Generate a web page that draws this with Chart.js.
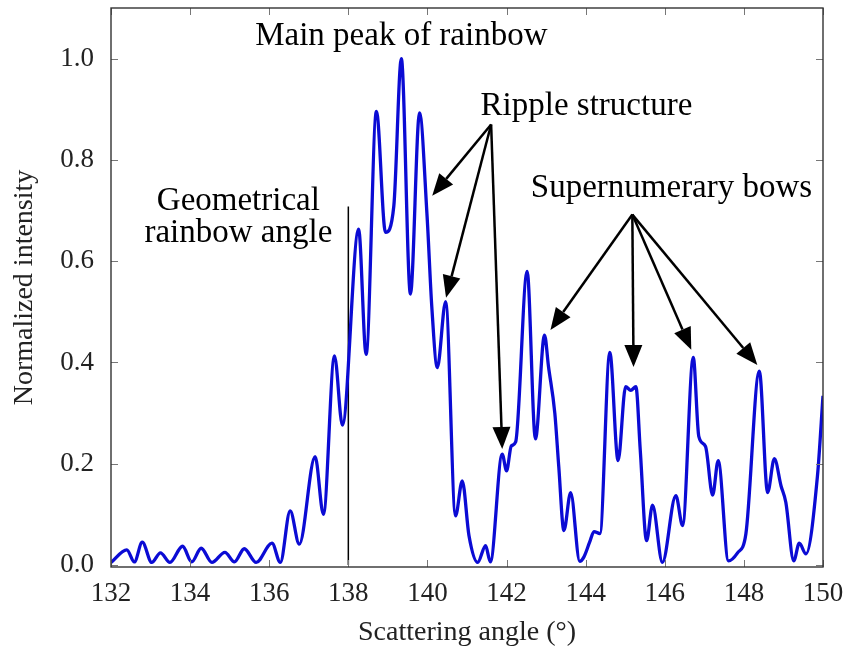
<!DOCTYPE html>
<html>
<head>
<meta charset="utf-8">
<script src="https://cdn.jsdelivr.net/npm/chart.js@4.4.1/dist/chart.umd.min.js"></script>
<style>
  html, body { margin: 0; padding: 0; background: #fff; }
  canvas { display: block; }
</style>
</head>
<body>
<canvas id="rainbowChart" width="848" height="652"></canvas>
<script>
// scattering angle (deg) and normalized intensity
const angles = [
  132.00, 132.40, 132.59, 132.79, 133.03, 133.25, 133.49, 133.81, 134.04, 134.28,
  134.55, 134.88, 135.12, 135.37, 135.67, 136.07, 136.28, 136.53, 136.76, 137.16,
  137.37, 137.65, 137.85, 138.26, 138.45, 138.71, 138.94, 139.15, 139.34, 139.57,
  139.80, 139.99, 140.11, 140.25, 140.46, 140.71, 140.88, 141.05, 141.27, 141.47,
  141.59, 141.89, 142.00, 142.12, 142.23, 142.52, 142.73, 142.96, 143.06, 143.22,
  143.32, 143.45, 143.62, 143.85, 143.95, 144.10, 144.21, 144.36, 144.61, 144.82,
  145.01, 145.14, 145.27, 145.38, 145.54, 145.69, 145.94, 146.28, 146.45, 146.72,
  146.86, 147.03, 147.21, 147.35, 147.61, 147.84, 148.05, 148.39, 148.60, 148.77,
  148.94, 149.06, 149.26, 149.40, 149.57, 149.86, 150.00
];
const intensity = [
  0.005, 0.030, 0.006, 0.045, 0.005, 0.024, 0.005, 0.037, 0.006, 0.033,
  0.005, 0.025, 0.006, 0.032, 0.005, 0.043, 0.005, 0.107, 0.041, 0.214,
  0.100, 0.413, 0.276, 0.663, 0.416, 0.896, 0.657, 0.709, 1.000, 0.535,
  0.893, 0.690, 0.510, 0.390, 0.520, 0.097, 0.166, 0.058, 0.005, 0.038,
  0.006, 0.219, 0.186, 0.235, 0.243, 0.580, 0.249, 0.454, 0.392, 0.300,
  0.194, 0.068, 0.143, 0.007, 0.015, 0.045, 0.066, 0.062, 0.420, 0.206,
  0.352, 0.345, 0.352, 0.227, 0.048, 0.118, 0.005, 0.137, 0.078, 0.410,
  0.254, 0.234, 0.138, 0.206, 0.008, 0.024, 0.061, 0.383, 0.143, 0.210,
  0.156, 0.124, 0.008, 0.043, 0.022, 0.176, 0.334
];

const xTicks = [132, 134, 136, 138, 140, 142, 144, 146, 148, 150];
const yTicks = [0, 0.2, 0.4, 0.6, 0.8, 1.0];

// geometrical rainbow angle marker
const geoAngle = [138, 138];
const geoLevel = [0, 0.708];

// annotation texts, in data units (centre x, baseline y)
const notes = [
  { text: 'Main peak of rainbow', x: 139.34, y: 1.026 },
  { text: 'Ripple structure', x: 144.02, y: 0.889 },
  { text: 'Geometrical', x: 135.22, y: 0.702 },
  { text: 'rainbow angle', x: 135.22, y: 0.638 },
  { text: 'Supernumerary bows', x: 146.17, y: 0.727 }
];

// arrows: common origin -> tips
const rippleFrom = { x: 141.61, y: 0.870 };
const rippleTips = [
  { x: 140.12, y: 0.729 },
  { x: 140.47, y: 0.528 },
  { x: 141.89, y: 0.229 }
];
const bowsFrom = { x: 145.18, y: 0.692 };
const bowsTips = [
  { x: 143.11, y: 0.464 },
  { x: 145.21, y: 0.391 },
  { x: 146.67, y: 0.425 },
  { x: 148.34, y: 0.395 }
];

const serif = '"Liberation Serif", "Times New Roman", serif';

function drawArrow(c, x0, y0, x1, y1) {
  const ang = Math.atan2(y1 - y0, x1 - x0);
  const len = 22, half = 9;
  const bx = x1 - len * Math.cos(ang);
  const by = y1 - len * Math.sin(ang);
  c.beginPath();
  c.moveTo(x0, y0);
  c.lineTo(bx, by);
  c.stroke();
  c.beginPath();
  c.moveTo(x1, y1);
  c.lineTo(bx + half * Math.sin(ang), by - half * Math.cos(ang));
  c.lineTo(bx - half * Math.sin(ang), by + half * Math.cos(ang));
  c.closePath();
  c.fill();
}

// box, inward ticks and the annotations
const decorations = {
  id: 'decorations',
  afterDatasetsDraw(chart) {
    const c = chart.ctx;
    const { left, right, top, bottom } = chart.chartArea;
    const sx = chart.scales.x, sy = chart.scales.y;
    c.save();

    c.strokeStyle = '#777';
    c.lineWidth = 1;
    xTicks.forEach(v => {
      const px = Math.round(sx.getPixelForValue(v)) + 0.5;
      c.beginPath();
      c.moveTo(px, bottom); c.lineTo(px, bottom - 7);
      c.moveTo(px, top); c.lineTo(px, top + 7);
      c.stroke();
    });
    yTicks.forEach(v => {
      const py = Math.round(sy.getPixelForValue(v)) + 0.5;
      c.beginPath();
      c.moveTo(left, py); c.lineTo(left + 7, py);
      c.moveTo(right, py); c.lineTo(right - 7, py);
      c.stroke();
    });

    c.strokeStyle = '#333';
    c.lineWidth = 1.4;
    c.strokeRect(left, top, right - left, bottom - top);

    c.fillStyle = '#000';
    c.strokeStyle = '#000';
    c.lineWidth = 2.5;
    const px = p => sx.getPixelForValue(p.x);
    const py = p => sy.getPixelForValue(p.y);
    rippleTips.forEach(t => drawArrow(c, px(rippleFrom), py(rippleFrom), px(t), py(t)));
    bowsTips.forEach(t => drawArrow(c, px(bowsFrom), py(bowsFrom), px(t), py(t)));

    c.font = '33px ' + serif;
    c.textAlign = 'center';
    c.textBaseline = 'alphabetic';
    notes.forEach(n => c.fillText(n.text, px(n), py(n)));

    c.restore();
  }
};

const ctx = document.getElementById('rainbowChart').getContext('2d');

new Chart(ctx, {
  type: 'line',
  data: {
    datasets: [
      {
        label: 'Intensity',
        data: angles.map((a, i) => ({ x: a, y: intensity[i] })),
        borderColor: '#0b0bd4',
        borderWidth: 3.3,
        pointRadius: 0,
        cubicInterpolationMode: 'monotone',
        fill: false
      },
      {
        label: 'Geometrical rainbow angle',
        data: geoAngle.map((a, i) => ({ x: a, y: geoLevel[i] })),
        borderColor: '#000',
        borderWidth: 1.5,
        pointRadius: 0
      }
    ]
  },
  options: {
    responsive: false,
    animation: false,
    devicePixelRatio: 1,
    layout: { padding: { top: 8, right: 25, left: 0, bottom: 0 } },
    plugins: {
      legend: { display: false },
      tooltip: { enabled: false }
    },
    scales: {
      x: {
        type: 'linear',
        min: 132,
        max: 150,
        afterBuildTicks: s => { s.ticks = xTicks.map(v => ({ value: v })); },
        afterFit: s => { s.height = 85; s.paddingLeft = 0; s.paddingRight = 0; },
        grid: { display: false },
        border: { display: false },
        ticks: {
          color: '#222',
          padding: 3,
          maxRotation: 0,
          font: { family: serif, size: 27 },
          callback: v => String(v)
        },
        title: {
          display: true,
          text: 'Scattering angle (°)',
          color: '#222',
          font: { family: serif, size: 28 },
          padding: { top: 0, bottom: 3 }
        }
      },
      y: {
        type: 'linear',
        min: -0.004,
        max: 1.1,
        afterBuildTicks: s => { s.ticks = yTicks.map(v => ({ value: v })); },
        afterFit: s => { s.width = 111; s.paddingTop = 0; s.paddingBottom = 0; },
        grid: { display: false },
        border: { display: false },
        ticks: {
          color: '#222',
          padding: 9,
          font: { family: serif, size: 27 },
          callback: v => v.toFixed(1)
        },
        title: {
          display: true,
          text: 'Normalized intensity',
          color: '#222',
          font: { family: serif, size: 28 },
          padding: { top: 8, bottom: 0 }
        }
      }
    }
  },
  plugins: [decorations]
});
</script>
</body>
</html>
